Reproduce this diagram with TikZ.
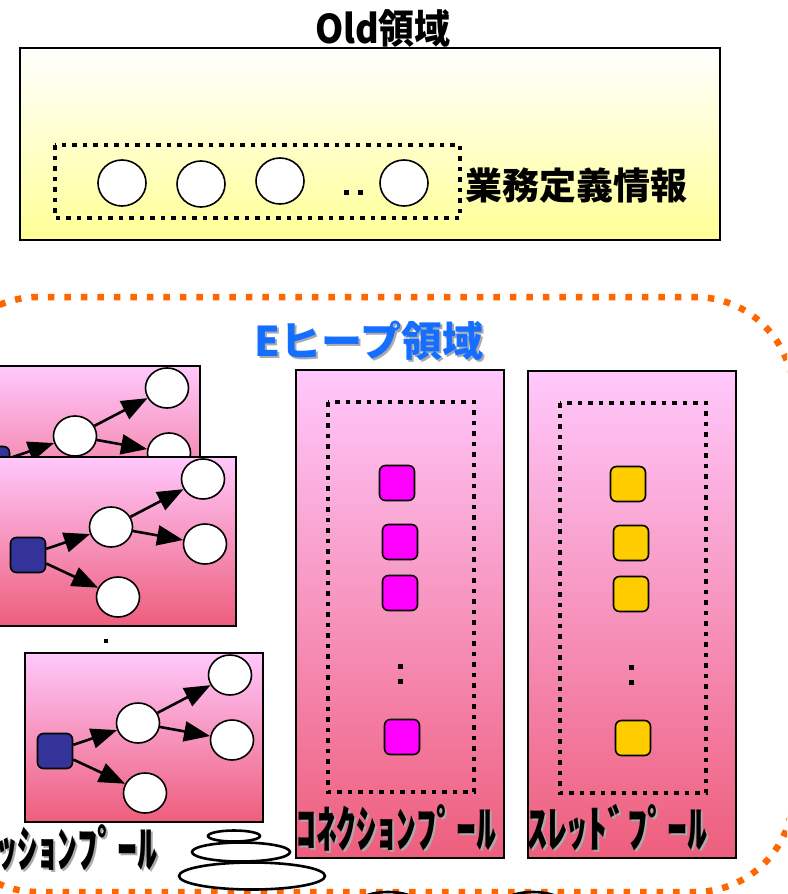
\documentclass[tikz,border=0pt]{standalone}
\usepackage{fontspec}
\usepackage{graphicx}
\newfontfamily\jp{Noto Sans CJK JP}
\usetikzlibrary{shapes.geometric,arrows.meta}
\definecolor{pinktop}{RGB}{255,200,252}
\definecolor{pinkbot}{RGB}{238,94,124}
\definecolor{yellowbot}{RGB}{255,255,150}
\definecolor{navysq}{RGB}{51,51,153}
\definecolor{magsq}{RGB}{255,0,255}
\definecolor{goldsq}{RGB}{255,204,0}
\definecolor{heapblue}{RGB}{20,110,255}
\definecolor{orangeb}{RGB}{255,102,0}
\definecolor{shadowgray}{RGB}{170,170,170}
\tikzset{
  boxline/.style={draw=black,line width=1.8pt},
  pinkbox/.style={boxline,top color=pinktop,bottom color=pinkbot},
  dotbox/.style={draw=black,line width=4.5pt,dash pattern=on 4.5pt off 6pt},
  circ/.style={ellipse,draw=black,line width=1.6pt,fill=white,minimum width=43pt,minimum height=40pt,inner sep=0pt},
  oval/.style={ellipse,draw=black,line width=1.6pt,fill=white,minimum width=48pt,minimum height=46pt,inner sep=0pt},
  sq/.style={rectangle,rounded corners=6pt,draw=black,line width=1.6pt,minimum size=35pt,inner sep=0pt},
  tinydot/.style={rectangle,fill=black,minimum size=5pt,inner sep=0pt},
  arr/.style={line width=2.6pt,-{Triangle[length=26pt,width=20pt]}},
  disk/.style={ellipse,draw=black,line width=2.6pt,inner sep=0pt},
  jptext/.style={font=\jp\bfseries,inner sep=0pt},
  kana/.style={jptext,font=\jp\bfseries\fontsize{40}{40}\selectfont},
}
\newcommand\tallkana[1]{\scalebox{1}[1.25]{#1}}
\newcommand\sessbox[3]{%
  \begin{scope}[shift={(#2,#3)},name prefix=#1-]
    \shade[pinkbox] (0,0) rectangle (238,169);
    \node[sq,fill=navysq] (s) at (30,98) {};
    \node[circ] (m) at (113,70) {};
    \node[circ] (t) at (205,22) {};
    \node[circ] (r) at (207,87) {};
    \node[circ] (b) at (120,140) {};
    \draw[arr] (s) -- (m);
    \draw[arr] (s) -- (b);
    \draw[arr] (m) -- (t);
    \draw[arr] (m) -- (r);
  \end{scope}}
\begin{document}
\begin{tikzpicture}[x=1pt,y=-1pt]
\useasboundingbox (0,0) rectangle (787,894);
\clip (0,0) rectangle (787,894);
\fill[white] (0,0) rectangle (787,894);

% Old area
\node[jptext,font=\jp\bfseries\fontsize{36}{36}\selectfont] (oldtitle) at (383,28) {\scalebox{1}[1.1]{Old領域}};
\shade[boxline,top color=white,bottom color=yellowbot] (20,48) rectangle (720,240);
\draw[dotbox] (55,145) rectangle (460,218);
\node[oval] (o1) at (122,183) {};
\node[oval] (o2) at (201,184) {};
\node[oval] (o3) at (280,181) {};
\node[oval] (o4) at (404,183) {};
\node[tinydot] (od1) at (346,192) {};
\node[tinydot] (od2) at (360,192) {};
\node[jptext,anchor=west,font=\jp\bfseries\fontsize{37}{37}\selectfont] (gyomu) at (465,186) {業務定義情報};

% E heap border
\draw[orangeb,line width=6.5pt,dash pattern=on 6.5pt off 10pt,rounded corners=98pt] (-60,297) rectangle (793,892);
\node[jptext,text=shadowgray,font=\jp\bfseries\fontsize{41}{41}\selectfont] (heapsh) at (371,343) {Eヒープ領域};
\node[jptext,text=heapblue,font=\jp\bfseries\fontsize{41}{41}\selectfont] (heap) at (369,341) {Eヒープ領域};

% session pool
\sessbox{A}{-38}{366}
\sessbox{B}{-2}{457}
\node[tinydot,minimum size=4pt] (sdot) at (106,641) {};
\sessbox{C}{25}{653}
\node[kana,text=shadowgray,anchor=east] (sesssh) at (160,850) {\tallkana{ｾｯｼｮﾝﾌﾟｰﾙ}};
\node[kana,anchor=east] (sess) at (158,848) {\tallkana{ｾｯｼｮﾝﾌﾟｰﾙ}};

% disk stack
\node[disk,minimum width=146pt,minimum height=27pt] (d3) at (252,876) {};
\node[disk,minimum width=98pt,minimum height=19pt] (d2) at (241,852) {};
\node[disk,minimum width=52pt,minimum height=11pt] (d1) at (234,836) {};
\node[disk,minimum width=66pt,minimum height=28pt] (d4) at (388,906) {};
\node[disk,minimum width=66pt,minimum height=28pt] (d5) at (533,906) {};

% connection pool
\shade[pinkbox] (296,370) rectangle (504,858);
\draw[dotbox] (328,402) rectangle (474,792);
\node[sq,fill=magsq] (c1) at (397,483) {};
\node[sq,fill=magsq] (c2) at (400,542) {};
\node[sq,fill=magsq] (c3) at (400,593) {};
\node[tinydot] (cd1) at (400,666) {};
\node[tinydot] (cd2) at (400,681) {};
\node[sq,fill=magsq] (c4) at (402,737) {};
\node[kana,text=shadowgray] (connsh) at (398,830) {\tallkana{ｺﾈｸｼｮﾝﾌﾟｰﾙ}};
\node[kana] (conn) at (396,828) {\tallkana{ｺﾈｸｼｮﾝﾌﾟｰﾙ}};

% thread pool
\shade[pinkbox] (528,371) rectangle (736,858);
\draw[dotbox] (560,403) rectangle (706,793);
\node[sq,fill=goldsq] (t1) at (628,484) {};
\node[sq,fill=goldsq] (t2) at (631,543) {};
\node[sq,fill=goldsq] (t3) at (631,594) {};
\node[tinydot] (td1) at (631,667) {};
\node[tinydot] (td2) at (631,682) {};
\node[sq,fill=goldsq] (t4) at (633,738) {};
\node[kana,text=shadowgray] (thrsh) at (619,830) {\tallkana{ｽﾚｯﾄﾞﾌﾟｰﾙ}};
\node[kana] (thr) at (617,828) {\tallkana{ｽﾚｯﾄﾞﾌﾟｰﾙ}};
\end{tikzpicture}
\end{document}
